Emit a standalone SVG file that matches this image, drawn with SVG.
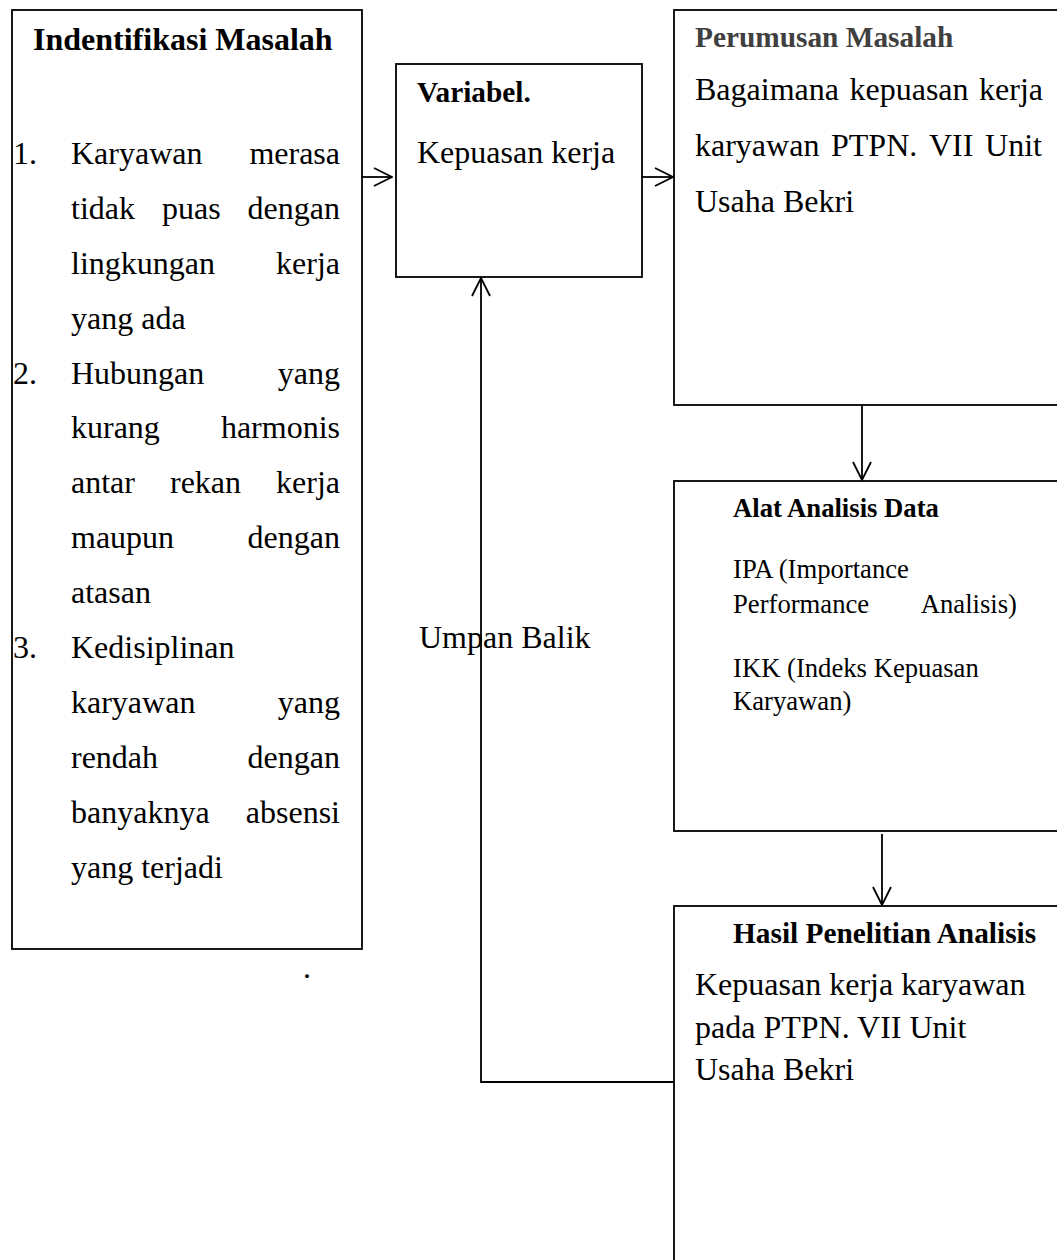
<svg xmlns="http://www.w3.org/2000/svg" width="1057" height="1260" viewBox="0 0 1057 1260">
<style>
  .box { fill: none; stroke: #000; stroke-width: 1.8; }
  .conn { fill: none; stroke: #000; stroke-width: 1.8; }
  text { font-family: "Liberation Serif", "Times New Roman", serif; fill: #000; }
  .b12 { font-size: 32px; }
  .h12 { font-size: 32px; font-weight: bold; }
  .h11 { font-size: 29.33px; font-weight: bold; }
  .h10 { font-size: 26.67px; font-weight: bold; }
  .b10 { font-size: 26.67px; }
  .end { text-anchor: end; }
  .gray { fill: #404040; }
</style>
<defs>
  <marker id="arr" viewBox="0 0 20 20" refX="19" refY="10" markerWidth="20" markerHeight="20" markerUnits="userSpaceOnUse" orient="auto">
    <path d="M1,1 L19,10 L1,19" fill="none" stroke="#000" stroke-width="1.8"/>
  </marker>
</defs>
<rect width="1057" height="1260" fill="#fff"/>

<g id="identifikasi">
  <rect class="box" x="12" y="10" width="350" height="939"/>
  <text class="h12" x="33" y="50">Indentifikasi Masalah</text>
  <text class="b12" x="13" y="164">1.</text>
  <text class="b12" x="71" y="164">Karyawan</text>
  <text class="b12 end" x="340" y="164">merasa</text>
  <text class="b12" x="71" y="219">tidak</text>
  <text class="b12" x="162" y="219">puas</text>
  <text class="b12 end" x="340" y="219">dengan</text>
  <text class="b12" x="71" y="274">lingkungan</text>
  <text class="b12 end" x="340" y="274">kerja</text>
  <text class="b12" x="71" y="329">yang ada</text>
  <text class="b12" x="13" y="384">2.</text>
  <text class="b12" x="71" y="384">Hubungan</text>
  <text class="b12 end" x="340" y="384">yang</text>
  <text class="b12" x="71" y="438">kurang</text>
  <text class="b12 end" x="340" y="438">harmonis</text>
  <text class="b12" x="71" y="493">antar</text>
  <text class="b12" x="170" y="493">rekan</text>
  <text class="b12 end" x="340" y="493">kerja</text>
  <text class="b12" x="71" y="548">maupun</text>
  <text class="b12 end" x="340" y="548">dengan</text>
  <text class="b12" x="71" y="603">atasan</text>
  <text class="b12" x="13" y="658">3.</text>
  <text class="b12" x="71" y="658">Kedisiplinan</text>
  <text class="b12" x="71" y="713">karyawan</text>
  <text class="b12 end" x="340" y="713">yang</text>
  <text class="b12" x="71" y="768">rendah</text>
  <text class="b12 end" x="340" y="768">dengan</text>
  <text class="b12" x="71" y="823">banyaknya</text>
  <text class="b12 end" x="340" y="823">absensi</text>
  <text class="b12" x="71" y="878">yang terjadi</text>
</g>
<text id="dot" class="b12" x="303" y="978">.</text>

<g id="variabel">
  <rect class="box" x="396" y="64" width="246" height="213"/>
  <text class="h11" x="417" y="102">Variabel.</text>
  <text class="b12" x="417" y="163">Kepuasan kerja</text>
</g>

<g id="perumusan">
  <rect class="box" x="674" y="10" width="420" height="395"/>
  <text class="h11 gray" x="695" y="47">Perumusan Masalah</text>
  <text class="b12" x="695" y="100">Bagaimana</text>
  <text class="b12" x="849.5" y="100">kepuasan</text>
  <text class="b12 end" x="1043" y="100">kerja</text>
  <text class="b12" x="695" y="156">karyawan</text>
  <text class="b12" x="831" y="156">PTPN.</text>
  <text class="b12" x="929" y="156">VII</text>
  <text class="b12 end" x="1042" y="156">Unit</text>
  <text class="b12" x="695" y="212">Usaha Bekri</text>
</g>

<g id="alat">
  <rect class="box" x="674" y="481" width="420" height="350"/>
  <text class="h10" x="733" y="517">Alat Analisis Data</text>
  <text class="b10" x="733" y="578">IPA (Importance</text>
  <text class="b10" x="733" y="613">Performance</text>
  <text class="b10 end" x="1017" y="613">Analisis)</text>
  <text class="b10" x="733" y="677">IKK (Indeks Kepuasan</text>
  <text class="b10" x="733" y="710">Karyawan)</text>
</g>

<g id="hasil">
  <rect class="box" x="674" y="906" width="420" height="400"/>
  <text class="h11" x="733" y="943">Hasil Penelitian Analisis</text>
  <text class="b12" x="695" y="995">Kepuasan kerja karyawan</text>
  <text class="b12" x="695" y="1038">pada PTPN. VII Unit</text>
  <text class="b12" x="695" y="1080">Usaha Bekri</text>
</g>

<g id="connectors">
  <line class="conn" x1="362" y1="177" x2="392" y2="177" marker-end="url(#arr)"/>
  <line class="conn" x1="642" y1="177" x2="673" y2="177" marker-end="url(#arr)"/>
  <line class="conn" x1="862" y1="405" x2="862" y2="480" marker-end="url(#arr)"/>
  <line class="conn" x1="882" y1="834" x2="882" y2="905" marker-end="url(#arr)"/>
  <polyline class="conn" points="674,1082 481,1082 481,278" marker-end="url(#arr)"/>
  <text class="b12" x="419" y="648">Umpan Balik</text>
</g>
</svg>
